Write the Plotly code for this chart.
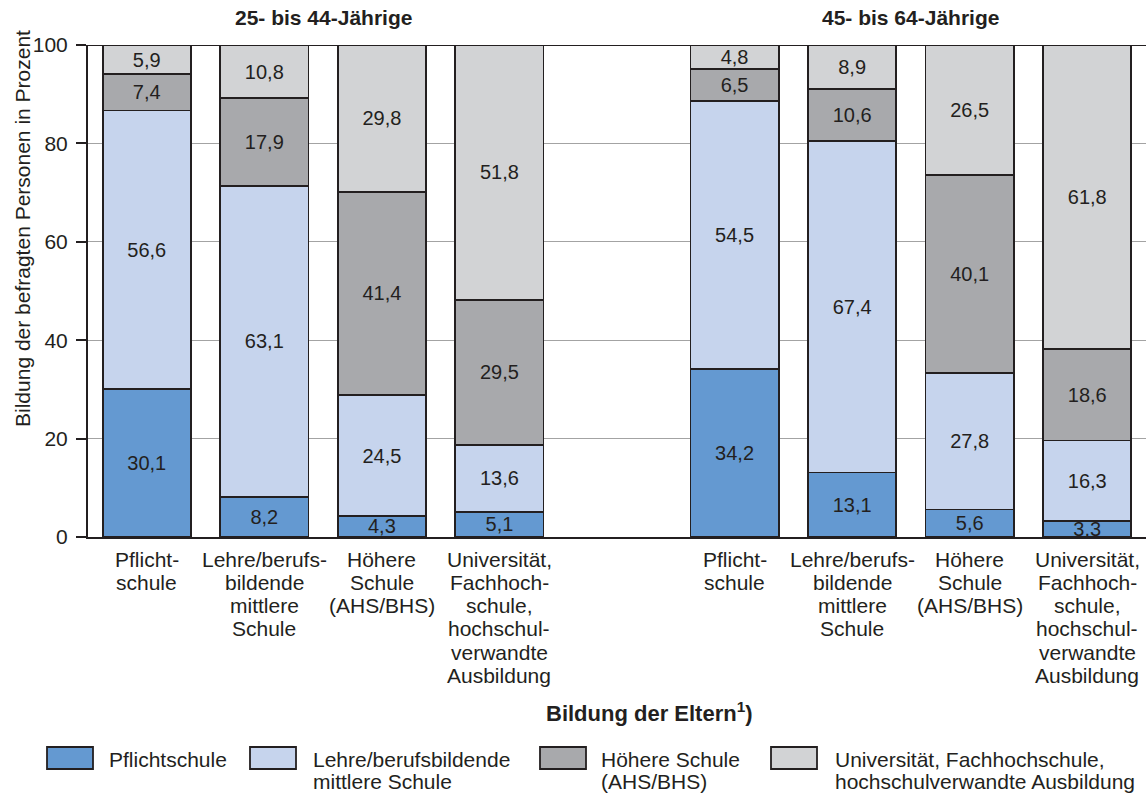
import plotly.graph_objects as go

# Parents' education (x categories), shown for two age groups
age_groups = ["25- bis 44-Jährige", "45- bis 64-Jährige"]
parent_levels = [
    ["Pflicht-", "schule"],
    ["Lehre/berufs-", "bildende", "mittlere", "Schule"],
    ["Höhere", "Schule", "(AHS/BHS)"],
    ["Universität,", "Fachhoch-", "schule,", "hochschul-", "verwandte", "Ausbildung"],
]

# Respondents' education (stack series), share in percent
series_names = [
    "Pflichtschule",
    "Lehre/berufsbildende mittlere Schule",
    "Höhere Schule (AHS/BHS)",
    "Universität, Fachhochschule, hochschulverwandte Ausbildung",
]
legend_lines = [
    ["Pflichtschule"],
    ["Lehre/berufsbildende", "mittlere Schule"],
    ["Höhere Schule", "(AHS/BHS)"],
    ["Universität, Fachhochschule,", "hochschulverwandte Ausbildung"],
]
pflichtschule = [30.1, 8.2, 4.3, 5.1, 34.2, 13.1, 5.6, 3.3]
lehre_bms = [56.6, 63.1, 24.5, 13.6, 54.5, 67.4, 27.8, 16.3]
hoehere_schule = [7.4, 17.9, 41.4, 29.5, 6.5, 10.6, 40.1, 18.6]
universitaet = [5.9, 10.8, 29.8, 51.8, 4.8, 8.9, 26.5, 61.8]
series_values = [pflichtschule, lehre_bms, hoehere_schule, universitaet]

y_ticks = [0, 20, 40, 60, 80, 100]

colors = ["#6499d1", "#c6d4ed", "#a8a9ac", "#d2d3d5"]
ink = "#231f20"
FONT = "Liberation Sans, Arial, sans-serif"
FS = 21
FS_VAL = 20

# bar slots: two groups of four with an empty slot between them
positions = [0, 1, 2, 3, 5, 6, 7, 8]

# plot area in pixels
L, R, T, B = 88, 1146, 45, 537
W, H = 1146, 793


def px(x):
    return (x - L) / (R - L)


def py(y):
    return (B - y) / (B - T)


fig = go.Figure()
for name, vals, col in zip(series_names, series_values, colors):
    fig.add_trace(go.Bar(
        x=positions, y=vals, name=name, width=0.75,
        marker=dict(color=col, line=dict(color=ink, width=1.8)),
        texttemplate="%{y:.1f}", textposition="inside",
        insidetextanchor="middle", constraintext="none", textangle=0,
        textfont=dict(family=FONT, size=FS_VAL, color=ink),
        showlegend=False, hoverinfo="skip",
    ))

ann = []
LINE = 23.3
# category labels under each bar, one line at a time
for gi in range(2):
    for ci, lines in enumerate(parent_levels):
        xpos = positions[gi * 4 + ci]
        for li, t in enumerate(lines):
            ann.append(dict(x=xpos, xref="x", y=py(559 + LINE * li), yref="paper",
                            text=t, showarrow=False, xanchor="center", yanchor="middle",
                            font=dict(family=FONT, size=FS, color=ink)))

# age group headings
for gi, title in enumerate(age_groups):
    ann.append(dict(x=1.5 + 5 * gi, xref="x", y=py(18), yref="paper",
                    text=f"<b>{title}</b>", showarrow=False, yanchor="middle",
                    font=dict(family=FONT, size=21, color=ink)))

# axis titles
ann.append(dict(x=px(649), xref="paper", y=py(712), yref="paper",
                text="<b>Bildung der Eltern<sup>1</sup>)</b>", showarrow=False,
                yanchor="middle", font=dict(family=FONT, size=22, color=ink)))
ann.append(dict(x=px(22), xref="paper", y=py(229), yref="paper",
                text="Bildung der befragten Personen in Prozent", textangle=-90,
                showarrow=False, xanchor="center", yanchor="middle",
                font=dict(family=FONT, size=FS, color=ink)))

# legend: wide swatches with text beside them
shapes = []
sw_x = [47, 250, 540, 771]
txt_x = [107, 311, 599, 833]
for i in range(4):
    shapes.append(dict(type="rect", xref="paper", yref="paper",
                       x0=px(sw_x[i]), x1=px(sw_x[i] + 46), y0=py(769), y1=py(747),
                       fillcolor=colors[i], line=dict(color=ink, width=1.8)))
    for li, t in enumerate(legend_lines[i]):
        ann.append(dict(x=px(txt_x[i]), xref="paper", y=py(759 + 22.5 * li), yref="paper",
                        text=t, showarrow=False, xanchor="left", yanchor="middle",
                        font=dict(family=FONT, size=FS, color=ink)))

# dark top line at 100
shapes.append(dict(type="line", xref="paper", yref="y", x0=0, x1=1, y0=100, y1=100,
                   line=dict(color=ink, width=1.8), layer="below"))

fig.update_layout(
    barmode="stack",
    width=W, height=H,
    margin=dict(l=L, r=W - R, t=T, b=H - B, pad=0),
    paper_bgcolor="white", plot_bgcolor="white",
    separators=",.",
    font=dict(family=FONT, size=FS, color=ink),
    annotations=ann, shapes=shapes,
    showlegend=False,
    xaxis=dict(range=[-0.5, 8.5], showticklabels=False, ticks="", showgrid=False,
               zeroline=False, showline=True, linecolor=ink, linewidth=2, fixedrange=True),
    yaxis=dict(range=[0, 100], tickvals=y_ticks, ticks="outside", ticklen=10,
               tickwidth=1.5, tickcolor=ink, showline=True, linecolor=ink, linewidth=2,
               showgrid=True, gridcolor="#a3a3a3", gridwidth=1, zeroline=False,
               tickfont=dict(family=FONT, size=FS, color=ink), ticklabelstandoff=4,
               fixedrange=True),
)

fig.write_html("out.html", config={"displayModeBar": False})
